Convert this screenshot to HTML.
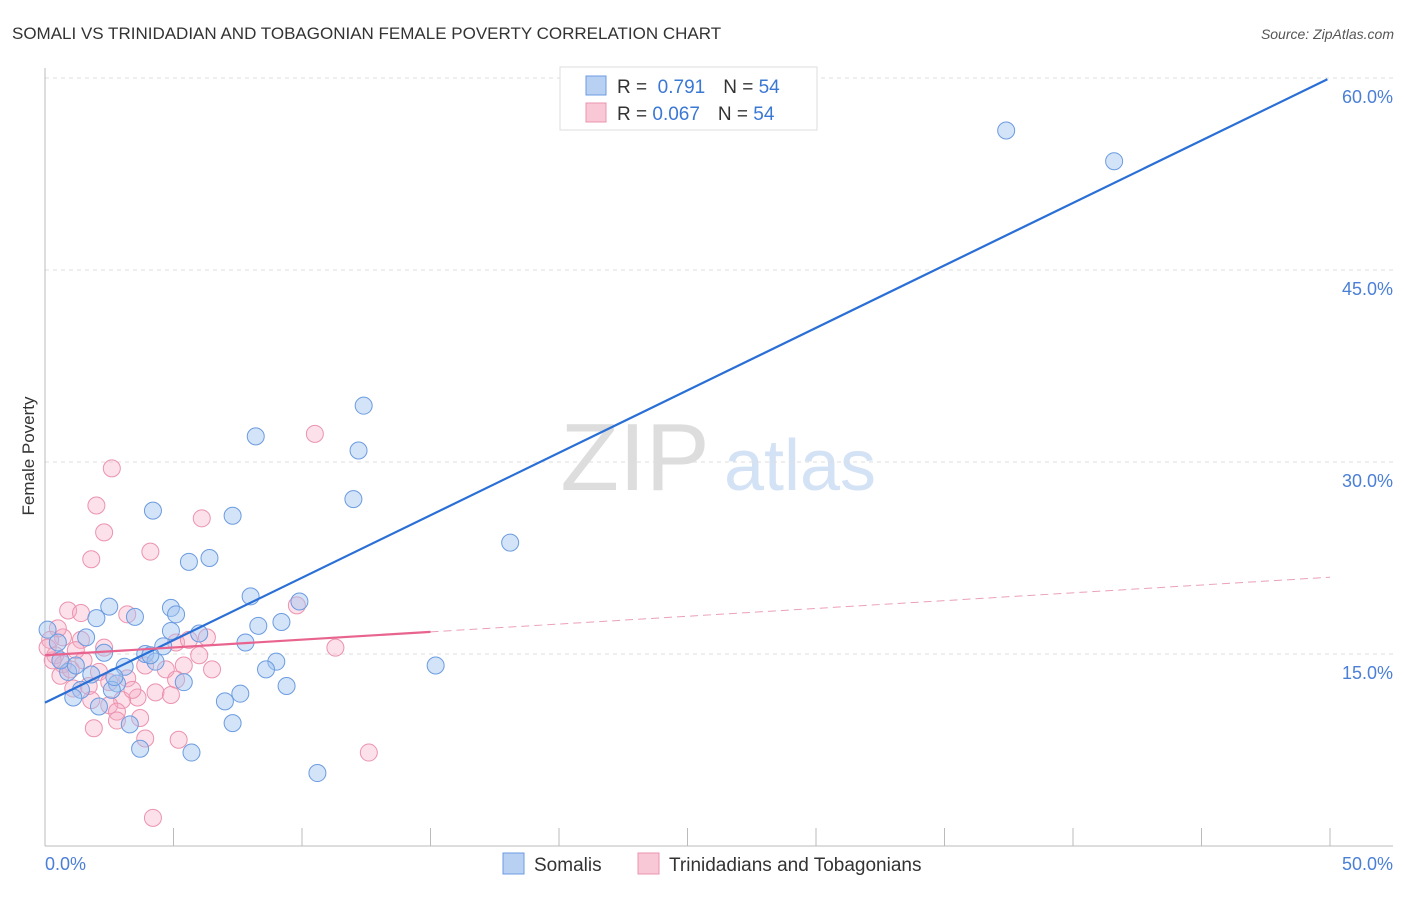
<!DOCTYPE html>
<html><head><meta charset="utf-8"><style>
body{margin:0;background:#fff;font-family:"Liberation Sans",sans-serif}
svg text{font-family:"Liberation Sans",sans-serif}
</style></head><body>
<svg id="chart" width="1406" height="892" viewBox="0 0 1406 892" xmlns="http://www.w3.org/2000/svg">
<text x="12" y="39" font-size="17" fill="#333">SOMALI VS TRINIDADIAN AND TOBAGONIAN FEMALE POVERTY CORRELATION CHART</text>
<text x="1394" y="39" font-size="14" fill="#555" font-style="italic" text-anchor="end">Source: ZipAtlas.com</text>
<g>
<text x="635" y="490" font-size="96" fill="#ddd" font-family="Liberation Serif,serif" text-anchor="middle">ZIP</text>
<text x="800" y="490" font-size="72" fill="#d4e2f5" text-anchor="middle">atlas</text>
</g>
<g id="grid"></g>
<g id="axes"></g>
<g id="marks"></g>
<g id="lines"></g>
<text transform="translate(34,456) rotate(-90)" font-size="17" fill="#333" text-anchor="middle">Female Poverty</text>
<g>
<rect x="560" y="67" width="257" height="63" fill="#fff" stroke="#ddd"/>
<rect x="586" y="76" width="20" height="19" fill="#b8d1f3" stroke="#6b9be0"/>
<text x="617" y="93" font-size="19" fill="#333">R = <tspan fill="#3a78d4">&#160;0.791</tspan><tspan dx="18">N = </tspan><tspan fill="#3a78d4">54</tspan></text>
<rect x="586" y="103" width="20" height="19" fill="#f9c8d6" stroke="#eb93ae"/>
<text x="617" y="120" font-size="19" fill="#333">R = <tspan fill="#3a78d4">0.067</tspan><tspan dx="18">N = </tspan><tspan fill="#3a78d4">54</tspan></text>
</g>
<g>
<rect x="503" y="853" width="21" height="21" fill="#b8d1f3" stroke="#6b9be0"/>
<text x="534" y="871" font-size="19" fill="#333">Somalis</text>
<rect x="638" y="853" width="21" height="21" fill="#f9c8d6" stroke="#eb93ae"/>
<text x="669" y="871" font-size="19" fill="#333">Trinidadians and Tobagonians</text>
</g>
</svg>
<script>
const blueX=[37.4,41.6,12.4,12.2,8.2,12.0,18.1,4.2,7.3,6.4,5.6,8.0,9.9,2.5,4.9,5.1,3.5,2.0,9.2,8.3,6.0,4.9,1.6,7.8,4.6,0.5,3.9,2.3,4.3,9.0,15.2,3.1,8.6,0.9,1.8,5.4,2.8,9.4,1.4,7.6,1.1,7.0,2.1,7.3,3.3,3.7,5.7,10.6,0.1,0.6,1.2,2.6,4.1,2.7];
const blueY=[55.9,53.5,34.4,30.9,32.0,27.1,23.7,26.2,25.8,22.5,22.2,19.5,19.1,18.7,18.6,18.1,17.9,17.8,17.5,17.2,16.6,16.8,16.3,15.9,15.6,15.9,15.0,15.1,14.4,14.4,14.1,14.0,13.8,13.6,13.4,12.8,12.7,12.5,12.2,11.9,11.6,11.3,10.9,9.6,9.5,7.6,7.3,5.7,16.9,14.5,14.1,12.2,14.9,13.2];
const pinkX=[2.6,2.0,10.5,6.1,2.3,4.1,1.8,0.9,1.4,3.2,9.8,0.7,1.4,2.3,6.3,5.1,5.6,0.5,0.4,0.7,1.5,3.9,5.4,6.5,2.1,3.2,2.5,0.6,1.1,1.7,4.3,4.9,3.6,3.0,2.5,2.8,3.7,3.9,1.9,5.2,2.8,4.7,11.3,12.6,4.2,0.2,0.3,0.1,1.2,1.0,3.4,1.8,5.1,6.0];
const pinkY=[29.5,26.6,32.2,25.6,24.5,23.0,22.4,18.4,18.2,18.1,18.8,16.3,16.1,15.5,16.3,15.9,16.1,17.0,14.9,14.2,14.5,14.1,14.1,13.8,13.6,13.1,12.8,13.3,12.3,12.5,12.0,11.8,11.6,11.4,11.0,10.5,10.0,8.4,9.2,8.3,9.8,13.8,15.5,7.3,2.2,16.1,14.5,15.5,15.3,13.8,12.2,11.4,13.0,14.9];
const yTicks=[15,30,45,60];
const yTickLabels=["15.0%","30.0%","45.0%","60.0%"];
const xTicks=[0,5,10,15,20,25,30,35,40,45,50];
const blueFit=[11.2,0.976]; // intercept, slope
const pinkFit=[14.9,0.122];
const pinkSolidEnd=15;

const NS="http://www.w3.org/2000/svg";
const sx=v=>45+v*1285/50;
const sy=v=>846-v*768/60;
function mk(tag,attrs,parent){const e=document.createElementNS(NS,tag);for(const k in attrs)e.setAttribute(k,attrs[k]);parent.appendChild(e);return e;}
const grid=document.getElementById('grid'),axes=document.getElementById('axes'),marks=document.getElementById('marks'),lines=document.getElementById('lines');
yTicks.forEach((t,i)=>{
  const g=mk('line',{x1:45,x2:1393,y1:sy(t),y2:sy(t),stroke:'#ddd','stroke-dasharray':'4,4'},grid);
  
  
  const l=mk('text',{x:1393,y:sy(t)+25,'font-size':18,fill:'#4a7fd6','text-anchor':'end'},axes);
  l.textContent=yTickLabels[i];
  
  
});
const xa=mk('line',{x1:45,x2:1393,y1:846,y2:846,stroke:'#bbb'},axes);


const ya=mk('line',{x1:45,x2:45,y1:68,y2:846,stroke:'#bbb'},axes);


xTicks.forEach(t=>{
  const tk=mk('line',{x1:sx(t),x2:sx(t),y1:828,y2:846,stroke:'#bbb'},axes);
  
  
});
const xl0=mk('text',{x:45,y:870,'font-size':18,fill:'#4a7fd6'},axes);xl0.textContent='0.0%';


const xl1=mk('text',{x:1393,y:870,'font-size':18,fill:'#4a7fd6','text-anchor':'end'},axes);xl1.textContent='50.0%';


pinkX.forEach((x,i)=>{
  const c=mk('circle',{cx:sx(x),cy:sy(pinkY[i]),r:8.5,fill:'rgba(246,170,195,0.35)',stroke:'#eb93ae','stroke-width':1},marks);
  
  
});
blueX.forEach((x,i)=>{
  const c=mk('circle',{cx:sx(x),cy:sy(blueY[i]),r:8.5,fill:'rgba(160,196,240,0.45)',stroke:'#6b9be0','stroke-width':1},marks);
  
  
});
const bl=mk('line',{x1:sx(0),y1:sy(blueFit[0]),x2:sx(49.9),y2:sy(blueFit[0]+blueFit[1]*49.9),stroke:'#2a6fd6','stroke-width':2.2},lines);


const pl=mk('line',{x1:sx(0),y1:sy(pinkFit[0]),x2:sx(pinkSolidEnd),y2:sy(pinkFit[0]+pinkFit[1]*pinkSolidEnd),stroke:'#e8648e','stroke-width':2.2},lines);


const pd=mk('line',{x1:sx(pinkSolidEnd),y1:sy(pinkFit[0]+pinkFit[1]*pinkSolidEnd),x2:sx(50),y2:sy(pinkFit[0]+pinkFit[1]*50),stroke:'#eba0b8','stroke-width':1,'stroke-dasharray':'8,5'},lines);


</script>
</body></html>
